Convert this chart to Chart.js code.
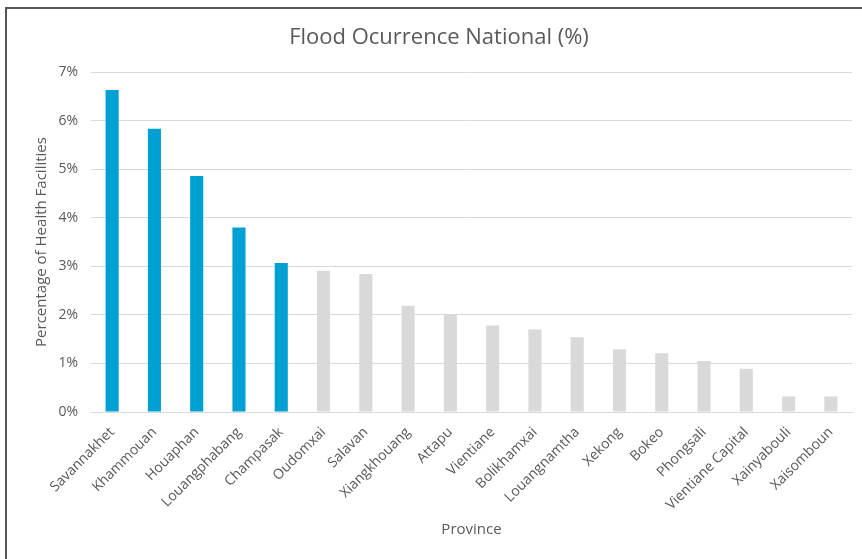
<!DOCTYPE html>
<html lang="en">
<head>
    <meta charset="UTF-8">
    <title>Flood Ocurrence National (%)</title>
    <style>
        html, body { margin: 0; padding: 0; background: #fff; overflow: hidden; }
        .wrap { position: relative; width: 862px; height: 559px; }
        .frame {
            position: absolute; left: 5px; top: 7px; right: -10px; bottom: -10px;
            border-left: 2px solid #555; border-top: 2px solid #555;
            pointer-events: none;
        }
    </style>
</head>
<body>
    <div class="wrap">
        <canvas id="floodChart" width="862" height="559"></canvas>
        <div class="frame"></div>
    </div>

    <script src="https://cdn.jsdelivr.net/npm/chart.js"></script>
    <script>
        const provinces = ['Savannakhet', 'Khammouan', 'Houaphan', 'Louangphabang', 'Champasak',
            'Oudomxai', 'Salavan', 'Xiangkhouang', 'Attapu', 'Vientiane', 'Bolikhamxai',
            'Louangnamtha', 'Xekong', 'Bokeo', 'Phongsali', 'Vientiane Capital', 'Xainyabouli', 'Xaisomboun'];
        const floodPct = [6.63, 5.83, 4.86, 3.80, 3.07, 2.91, 2.84, 2.19, 2.02, 1.78, 1.70,
            1.54, 1.29, 1.21, 1.05, 0.89, 0.32, 0.32];
        const highlighted = 5; // first five provinces shown in blue
        const yTicks = [0, 1, 2, 3, 4, 5, 6, 7];

        const TEXT = '#595959';
        const GRID = '#d9d9d9';
        const FONT = "'Open Sans', sans-serif";

        const barColors = floodPct.map((v, i) => i < highlighted ? '#00a0d2' : '#d9d9d9');

        new Chart(document.getElementById('floodChart'), {
            type: 'bar',
            data: {
                labels: provinces,
                datasets: [{
                    label: 'Flood Ocurrence',
                    data: floodPct,
                    backgroundColor: barColors,
                    borderWidth: 0,
                    categoryPercentage: 1,
                    barPercentage: 0.31
                }]
            },
            options: {
                responsive: false,
                animation: false,
                layout: { padding: { left: 26, right: 10, top: 0, bottom: 0 } },
                plugins: {
                    legend: { display: false },
                    tooltip: { enabled: false },
                    title: {
                        display: true,
                        text: 'Flood Ocurrence National (%)',
                        color: TEXT,
                        font: { family: FONT, size: 22, weight: 'normal' },
                        padding: { top: 25, bottom: 20.6 }
                    }
                },
                scales: {
                    x: {
                        grid: { display: false },
                        border: { color: GRID, width: 1 },
                        ticks: {
                            color: TEXT,
                            font: { family: FONT, size: 14 },
                            minRotation: 45,
                            maxRotation: 45,
                            autoSkip: false,
                            padding: 4
                        },
                        title: {
                            display: true,
                            text: 'Province',
                            color: TEXT,
                            font: { family: FONT, size: 15 },
                            padding: { top: 0, bottom: 20 }
                        },
                        afterFit: s => { s.height = 147; }
                    },
                    y: {
                        min: yTicks[0],
                        max: yTicks[yTicks.length - 1],
                        afterBuildTicks: s => { s.ticks = yTicks.map(v => ({ value: v })); },
                        grid: { color: GRID, lineWidth: 1, drawTicks: false },
                        border: { display: false },
                        ticks: {
                            color: TEXT,
                            font: { family: FONT, size: 14 },
                            padding: 13,
                            callback: v => v + '%'
                        },
                        title: {
                            display: true,
                            text: 'Percentage of Health Facilities',
                            color: TEXT,
                            font: { family: FONT, size: 15 },
                            padding: { top: 7, bottom: 0 }
                        },
                        afterFit: s => { s.width = 65; }
                    }
                }
            }
        });
    </script>
</body>
</html>
